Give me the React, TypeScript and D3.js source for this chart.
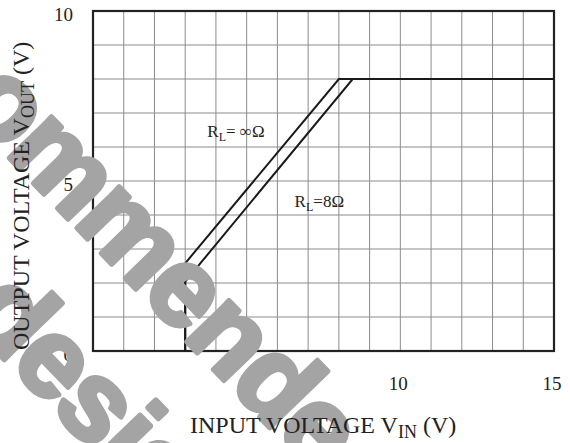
import React, { useEffect, useRef } from 'react';
import * as d3 from 'd3';

// V_IN (V) vs V_OUT (V)
const vinInf = [3, 3, 8, 15];
const voutInf = [0, 2.58, 8, 8];
const vin8 = [3, 3, 8.45, 15];
const vout8 = [0, 2.04, 8, 8];

const xTicks = [0, 5, 10, 15];
const yTicks = [0, 5, 10];

const W = 570;
const H = 443;

export default function App() {
  const svgRef = useRef<SVGSVGElement>(null);

  useEffect(() => {
    if (!svgRef.current) return;
    const margin = { top: 11, right: 16, bottom: 92, left: 93 };
    const width = W - margin.left - margin.right;
    const height = H - margin.top - margin.bottom;

    d3.select(svgRef.current).selectAll('*').remove();
    const root = d3.select(svgRef.current).attr('width', W).attr('height', H);

    const serif = "'Liberation Serif', 'Times New Roman', serif";

    const x = d3.scaleLinear().domain([0, 15]).range([0, width]);
    const y = d3.scaleLinear().domain([0, 10]).range([height, 0]);

    const g = root.append('g').attr('transform', `translate(${margin.left},${margin.top})`);

    // grid
    g.append('g')
      .selectAll('line')
      .data(d3.range(1, 15))
      .enter()
      .append('line')
      .attr('x1', d => x(d))
      .attr('x2', d => x(d))
      .attr('y1', 0)
      .attr('y2', height)
      .attr('stroke', '#8c8c8c')
      .attr('stroke-width', 1);
    g.append('g')
      .selectAll('line')
      .data(d3.range(1, 10))
      .enter()
      .append('line')
      .attr('x1', 0)
      .attr('x2', width)
      .attr('y1', d => y(d))
      .attr('y2', d => y(d))
      .attr('stroke', '#8c8c8c')
      .attr('stroke-width', 1);

    // watermark (sits over the grid, under the curves)
    const wm = root.append('g').attr('fill', '#a4a4a4')
      .attr('stroke', '#a4a4a4').attr('stroke-width', 5).attr('stroke-linejoin', 'round')
      .style('font-family', "'Liberation Sans', Arial, sans-serif")
      .style('font-weight', 'bold').style('font-size', '112px')
      .style('letter-spacing', '-2px');
    wm.append('text').attr('transform', 'translate(-155,-12) rotate(46)').text('recommended');
    wm.append('text').attr('transform', 'translate(-38,316) rotate(46)').text('designs');

    // frame
    g.append('rect')
      .attr('x', 0).attr('y', 0).attr('width', width).attr('height', height)
      .attr('fill', 'none').attr('stroke', '#222').attr('stroke-width', 2.2);

    const line = d3.line<[number, number]>().x(d => x(d[0])).y(d => y(d[1]));
    const curves = [
      vinInf.map((v, i) => [v, voutInf[i]] as [number, number]),
      vin8.map((v, i) => [v, vout8[i]] as [number, number]),
    ];
    g.selectAll('path.curve')
      .data(curves)
      .enter()
      .append('path')
      .attr('class', 'curve')
      .attr('d', d => line(d))
      .attr('fill', 'none')
      .attr('stroke', '#1a1a1a')
      .attr('stroke-width', 2);

    // tick labels
    g.selectAll('text.xt')
      .data(xTicks)
      .enter()
      .append('text')
      .attr('class', 'xt')
      .attr('x', d => x(d) - 2)
      .attr('y', height + 39)
      .attr('text-anchor', 'middle')
      .style('font-family', serif)
      .style('font-size', '19px')
      .attr('fill', '#222')
      .text(d => d);
    g.selectAll('text.yt')
      .data(yTicks)
      .enter()
      .append('text')
      .attr('class', 'yt')
      .attr('x', -20)
      .attr('y', d => y(d) + 10)
      .attr('text-anchor', 'end')
      .style('font-family', serif)
      .style('font-size', '19px')
      .attr('fill', '#222')
      .text(d => d);

    // curve labels
    const lab = (tx: number, ty: number, sub: string, rest: string) => {
      const t = g.append('text')
        .attr('x', x(tx)).attr('y', y(ty))
        .style('font-family', serif).style('font-size', '17px').attr('fill', '#222');
      t.append('tspan').text('R');
      t.append('tspan').attr('dy', 4).style('font-size', '12px').text(sub);
      t.append('tspan').attr('dy', -4).text(rest);
    };
    lab(3.72, 6.3, 'L', '= ∞Ω');
    lab(6.56, 4.23, 'L', '=8Ω');

    // axis titles
    const xt = root.append('text')
      .attr('x', 190).attr('y', 433)
      .style('font-family', serif).style('font-size', '24px').attr('fill', '#222');
    xt.append('tspan').text('INPUT VOLTAGE V');
    xt.append('tspan').attr('dy', 5).style('font-size', '18px').text('IN');
    xt.append('tspan').attr('dy', -5).text(' (V)');

    const yt = root.append('text')
      .attr('transform', 'translate(29,350) rotate(-90)')
      .style('font-family', serif).style('font-size', '24px').attr('fill', '#222');
    yt.append('tspan').text('OUTPUT VOLTAGE V');
    yt.append('tspan').attr('dy', 5).style('font-size', '18px').text('OUT');
    yt.append('tspan').attr('dy', -5).text(' (V)');
  }, []);

  return (
    <svg ref={svgRef} style={{ position: 'absolute', left: 0, top: 0, background: '#fff' }}></svg>
  );
}
